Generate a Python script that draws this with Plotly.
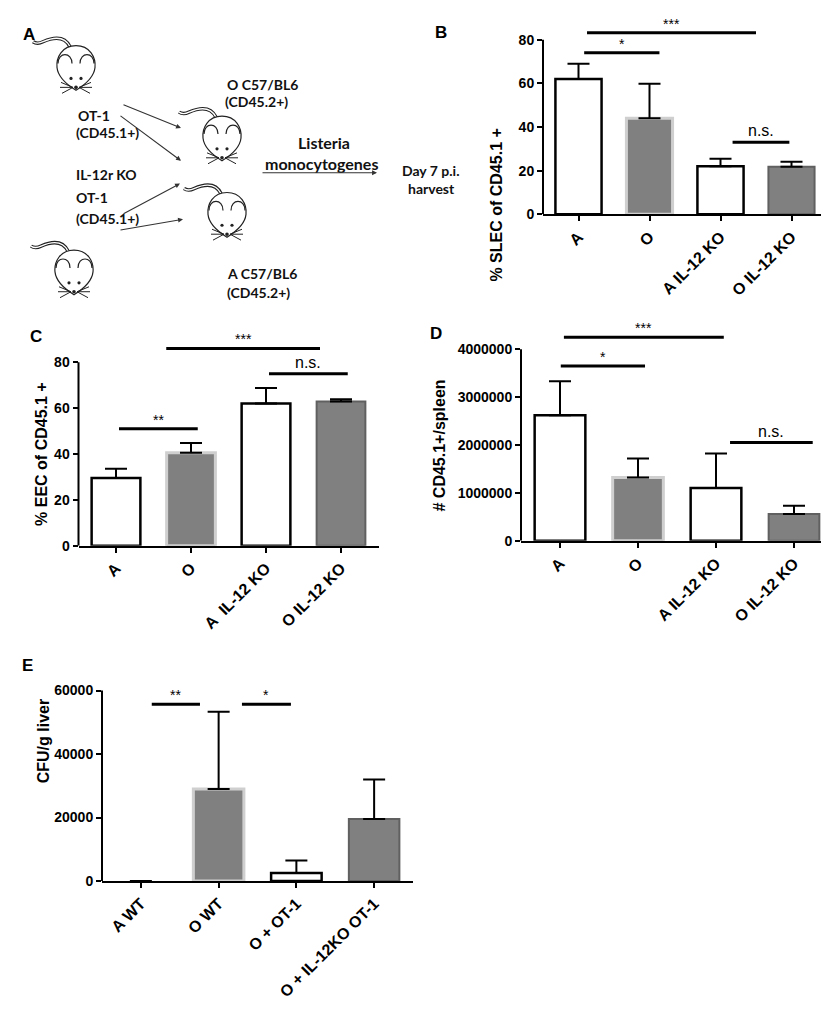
import plotly.graph_objects as go

W, H = 829, 1009

# ---------------- data ----------------
cats_bcd = ["A", "O", "A IL-12 KO", "O IL-12 KO"]
cats_c = ["A", "O", "A  IL-12 KO", "O IL-12 KO"]
cats_e = ["A WT", "O WT", "O + OT-1", "O + IL-12KO OT-1"]

slec_mean = [62, 44, 22, 21.8]
slec_sem = [7, 15.8, 3.5, 2.3]
eec_mean = [29.5, 40.5, 62, 62.8]
eec_sem = [4, 4.3, 6.7, 1.0]
cd451_mean = [2620000, 1320000, 1100000, 560000]
cd451_sem = [710000, 400000, 720000, 170000]
cfu_mean = [0, 29000, 2500, 19500]
cfu_sem = [0, 24300, 4000, 12500]

ticks_b = [0, 20, 40, 60, 80]
ticks_c = [0, 20, 40, 60, 80]
ticks_d = [0, 1000000, 2000000, 3000000, 4000000]
ticks_e = [0, 20000, 40000, 60000]

# significance brackets: (x start, x end, height, label)
sig_b = [(0.12, 2.5, 83.2, "***"), (0.08, 1.14, 74, "*"), (2.17, 2.97, 33, "n.s.")]
sig_c = [(0.67, 2.72, 86, "***"), (0.04, 1.09, 51, "**"), (2.04, 3.09, 75, "n.s.")]
sig_d = [(0.05, 2.1, 4250000, "***"), (0.01, 1.09, 3650000, "*"), (2.18, 3.24, 2050000, "n.s.")]
sig_e = [(0.14, 0.76, 55700, "**"), (1.3, 1.93, 55700, "*")]

# ---------------- styles ----------------
FONT = "Liberation Sans, Arial, sans-serif"
AFONT = "Lato, Open Sans, sans-serif"
fills = ["#ffffff", "#808080", "#ffffff", "#808080"]
edges = ["#000000", "#cfcfcf", "#000000", "#606060"]
edgew = [2.5, 3, 2.5, 2]
edgew_e = [0, 3, 2.5, 2]


def px(x):
    return x / W


def py(y):
    return 1 - y / H


panels = [
    dict(ax="", cats=cats_bcd, mean=slec_mean, sem=slec_sem, ticks=ticks_b, yr=[0, 88],
         xd=(535, 819), yd=(14.4, 208), sig=sig_b, title="% SLEC of CD45.1 +", tpos=(489, 120),
         ew=edgew),
    dict(ax="2", cats=cats_c, mean=eec_mean, sem=eec_sem, ticks=ticks_c, yr=[0, 95],
         xd=(70.5, 370.5), yd=(322.3, 542), sig=sig_c, title="% EEC of CD45.1 +", tpos=(23, 450),
         ew=edgew),
    dict(ax="3", cats=cats_bcd, mean=cd451_mean, sem=cd451_sem, ticks=ticks_d, yr=[0, 4600000],
         xd=(513, 825), yd=(315, 537), sig=sig_d, title="# CD45.1+/spleen", tpos=(432, 441),
         ew=edgew),
    dict(ax="4", cats=cats_e, mean=cfu_mean, sem=cfu_sem, ticks=ticks_e, yr=[0, 63000],
         xd=(94, 405), yd=(678.4, 880), sig=sig_e, title="CFU/g liver", tpos=(25, 784),
         ew=edgew_e),
]

fig = go.Figure()
shapes = []
annotations = []
layout = {}

for p in panels:
    xa = "x" + p["ax"]
    ya = "y" + p["ax"]
    fig.add_trace(go.Bar(
        x=p["cats"], y=p["mean"], xaxis=xa, yaxis=ya, width=0.65,
        marker=dict(color=fills, line=dict(color=edges, width=p["ew"])),
        error_y=dict(type="data", symmetric=False, array=p["sem"], arrayminus=[0] * 4,
                     color="black", thickness=2, width=11),
        showlegend=False, hoverinfo="skip",
    ))
    xkey = "xaxis" + p["ax"]
    ykey = "yaxis" + p["ax"]
    layout[xkey] = dict(
        domain=[px(p["xd"][0]), px(p["xd"][1])], anchor=ya, type="category",
        categoryorder="array", categoryarray=p["cats"], range=[-0.5, 3.5],
        showline=True, linecolor="black", linewidth=2, ticks="outside", ticklen=5,
        tickwidth=2, tickcolor="black", tickangle=-45, showgrid=False, zeroline=False,
        tickfont=dict(family=FONT, size=16, color="black", weight="bold"),
    )
    layout[ykey] = dict(
        domain=[py(p["yd"][1]), py(p["yd"][0])], anchor=xa, range=p["yr"],
        tickmode="array", tickvals=p["ticks"], ticktext=[str(t) for t in p["ticks"]],
        showline=False, ticks="outside", ticklen=5, tickwidth=2, tickcolor="black",
        showgrid=False, zeroline=False,
        tickfont=dict(family=FONT, size=14, color="black", weight="bold"),
    )
    # y axis line up to top tick
    shapes.append(dict(type="line", xref=xa + " domain", yref=ya, x0=0, x1=0,
                       y0=0, y1=p["ticks"][-1], line=dict(color="black", width=2)))
    for (s0, s1, h, lab) in p["sig"]:
        shapes.append(dict(type="line", xref=xa, yref=ya, x0=s0, x1=s1,
                           y0=h, y1=h, line=dict(color="black", width=3)))
        if lab == "n.s.":
            f = dict(family=FONT, size=16, color="black")
            ysh = 1
        else:
            f = dict(family=FONT, size=14, color="black")
            ysh = -1
        annotations.append(dict(xref=xa, yref=ya, x=(s0 + s1) / 2, y=h, text=lab,
                                showarrow=False, yanchor="bottom", yshift=ysh, font=f))
    annotations.append(dict(xref="paper", yref="paper", x=px(p["tpos"][0]), y=py(p["tpos"][1]),
                            text=p["title"], textangle=-90, showarrow=False,
                            font=dict(family=FONT, size=16, color="black", weight="bold")))

# panel letters
for lab, (lx, ly) in zip("ABCDE", [(13, 15), (433, 13), (20, 320), (428, 317), (12, 663)]):
    annotations.append(dict(xref="paper", yref="paper", x=px(lx), y=py(ly), text=lab,
                            showarrow=False, font=dict(family=FONT, size=17, color="black",
                                                       weight="bold")))

# ---------------- panel A schematic ----------------
def P(cx, cy, dx, dy):
    return f"{px(cx + dx):.5f},{py(cy + dy):.5f}"


def mouse(cx, cy):
    tail = ("M " + P(cx, cy, -6, -21) + " C " + P(cx, cy, -12, -33) + " " + P(cx, cy, -24, -30)
            + " " + P(cx, cy, -33, -26) + " C " + P(cx, cy, -37, -24) + " " + P(cx, cy, -40, -24)
            + " " + P(cx, cy, -43, -26))
    shapes.append(dict(type="path", xref="paper", yref="paper", path=tail,
                       line=dict(color="#222", width=3.5)))
    shapes.append(dict(type="path", xref="paper", yref="paper", path=tail,
                       line=dict(color="white", width=1.4)))
    body = ("M " + P(cx, cy, 0, -22) + " C " + P(cx, cy, 14, -22) + " " + P(cx, cy, 20, -10)
            + " " + P(cx, cy, 19, 0) + " C " + P(cx, cy, 18, 10) + " " + P(cx, cy, 8, 18)
            + " " + P(cx, cy, 0, 23) + " C " + P(cx, cy, -8, 18) + " " + P(cx, cy, -18, 10)
            + " " + P(cx, cy, -19, 0) + " C " + P(cx, cy, -20, -10) + " " + P(cx, cy, -14, -22)
            + " " + P(cx, cy, 0, -22) + " Z")
    shapes.append(dict(type="path", xref="paper", yref="paper", path=body,
                       fillcolor="white", line=dict(color="#222", width=1.2)))
    for s in (-1, 1):
        ear = ("M " + P(cx, cy, s * 4, -4) + " C " + P(cx, cy, s * 4, -16) + " "
               + P(cx, cy, s * 18, -16) + " " + P(cx, cy, s * 18, -4))
        shapes.append(dict(type="path", xref="paper", yref="paper", path=ear,
                           line=dict(color="#222", width=1.2)))
        shapes.append(dict(type="circle", xref="paper", yref="paper",
                           x0=px(cx + s * 5 - 1.6), x1=px(cx + s * 5 + 1.6),
                           y0=py(cy + 11 + 1.6), y1=py(cy + 11 - 1.6),
                           fillcolor="#222", line=dict(width=0)))
        for (ex, ey) in [(15, 15), (16, 20), (14, 26)]:
            shapes.append(dict(type="line", xref="paper", yref="paper",
                               x0=px(cx + s * 3), y0=py(cy + 20), x1=px(cx + s * ex),
                               y1=py(cy + ey), line=dict(color="#222", width=1)))
    shapes.append(dict(type="circle", xref="paper", yref="paper",
                       x0=px(cx - 1.8), x1=px(cx + 1.8), y0=py(cy + 21.8), y1=py(cy + 18.2),
                       fillcolor="#222", line=dict(width=0)))


for (mx, my) in [(68, 60), (214, 131), (219, 208), (66, 266)]:
    mouse(mx, my)

a_texts = [
    ("OT-1", 68, 98, 14), ("(CD45.1+)", 66, 115, 14),
    ("O C57/BL6", 217, 67, 14), ("(CD45.2+)", 215, 84, 14),
    ("IL-12r KO", 66, 157, 14), ("OT-1", 66, 180, 14), ("(CD45.1+)", 66, 202, 14),
    ("A C57/BL6", 217, 257, 14), ("(CD45.2+)", 217, 276, 14),
    ("Listeria", 316, 124, 16), ("monocytogenes", 313, 145, 16),
    ("Day 7 p.i.", 423, 153, 14), ("harvest", 423, 171, 14),
]
for (t, tx, ty, fs) in a_texts:
    annotations.append(dict(xref="paper", yref="paper", x=px(tx), y=py(ty), text=t,
                            showarrow=False, font=dict(family=AFONT, size=fs, color="#111",
                                                       weight="bold")))

arrows = [((114, 97), (173, 121)), ((111, 108), (173, 154)), ((114, 208), (172, 177)),
          ((111, 224), (175, 213)), ((253, 166), (369, 166))]
for (t0, t1) in arrows:
    annotations.append(dict(xref="paper", yref="paper", x=px(t1[0]), y=py(t1[1]),
                            ax=t0[0] - t1[0], ay=t0[1] - t1[1], text="", showarrow=True,
                            arrowhead=2, arrowsize=0.9, arrowwidth=1.1, arrowcolor="#333"))

fig.update_layout(
    width=W, height=H, autosize=False,
    margin=dict(l=0, r=0, t=0, b=0),
    paper_bgcolor="white", plot_bgcolor="rgba(0,0,0,0)",
    shapes=shapes, annotations=annotations, bargap=0.35,
    **layout,
)

fig.write_html("out.html")
